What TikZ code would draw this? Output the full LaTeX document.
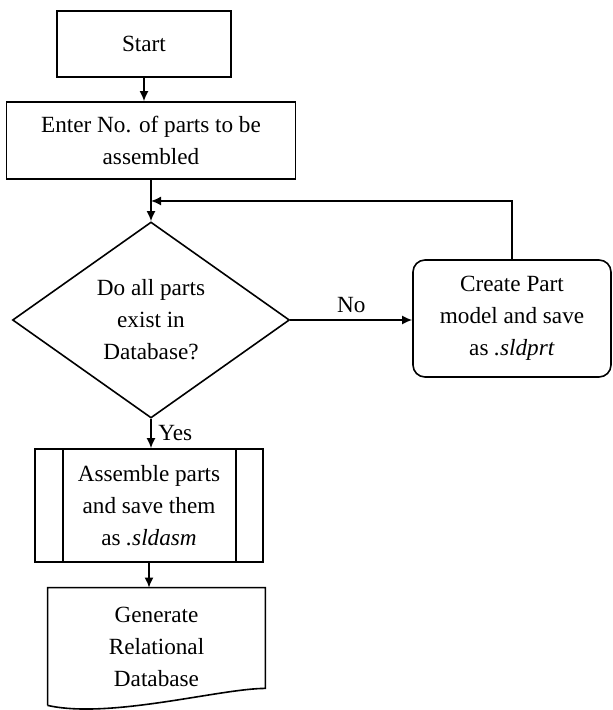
\documentclass[tikz,border=0pt]{standalone}
\usepackage{fontspec}
\setmainfont{Liberation Serif}
\usepackage{tikz}
\usetikzlibrary{arrows.meta,shapes.geometric}
\usetikzlibrary{positioning}
\newcommand{\flowfont}{\fontsize{11.6}{16}\selectfont}
\tikzstyle{process}=[rectangle,draw,line width=0.8pt,align=center,inner sep=2pt,font=\flowfont]
\tikzstyle{roundproc}=[process,rounded corners=6pt]
\tikzstyle{decision}=[diamond,draw,line width=0.8pt,align=center,inner sep=0pt,aspect=1.41,font=\flowfont]
\tikzstyle{subproc}=[process,path picture={
  \draw[line width=0.8pt] ([xshift=14pt]path picture bounding box.north west) -- ([xshift=14pt]path picture bounding box.south west);
  \draw[line width=0.8pt] ([xshift=-13.5pt]path picture bounding box.north east) -- ([xshift=-13.5pt]path picture bounding box.south east);}]
\tikzstyle{docu}=[rectangle,align=center,inner sep=2pt,font=\flowfont]
\tikzstyle{edge} = [draw,line width=0.8pt,-{Latex[length=5pt,width=4.5pt]}]
\tikzstyle{weight} = [font=\flowfont]

\begin{document}
\begin{tikzpicture}[x=0.5pt,y=-0.5pt]

  \useasboundingbox (0,0) rectangle (612,710);

  \node[process,minimum width=87pt,minimum height=33pt] (start) at (144,44) {Start};
  \node[process,minimum width=144.5pt,minimum height=38.5pt] (enter) at (151,140.5) {Enter No. of parts to be\\assembled};
  \node[decision,minimum width=138.5pt,minimum height=98pt] (check) at (151,320) {Do all parts\\exist in\\Database?};
  \node[roundproc,minimum width=99pt,minimum height=58.5pt] (create) at (512,318.5) {Create Part\\model and save\\as \textit{.sldprt}};
  \node[subproc,minimum width=114pt,minimum height=56.5pt] (assemble) at (149,505.5) {Assemble parts\\and save them\\as \textit{.sldasm}};
  \node[docu,minimum width=108.5pt,minimum height=58.5pt] (generate) at (156.5,646.5) {Generate\\Relational\\Database};

  % document outline with wavy bottom
  \draw[line width=0.8pt] (generate.south west) -- (generate.north west) -- (generate.north east)
     -- ([yshift=8.5pt]generate.south east)
     .. controls ([xshift=-22.5pt,yshift=8.5pt]generate.south east) and ([xshift=31pt,yshift=-7pt]generate.south west) .. (generate.south west);

  \coordinate (merge) at (151,201);

  \foreach \source/\dest/\weight in {start/enter/{}, enter/check/{}, check/assemble/Yes, assemble/generate/{}}
         \path[edge] (\source.south) -- node[weight,right] {\weight} (\source.south |- \dest.north);

  \path[edge] (check.east) -- node[weight,above] {No} (check.east -| create.west);
  \path[edge] (create.north) |- (merge);

\end{tikzpicture}
\end{document}
